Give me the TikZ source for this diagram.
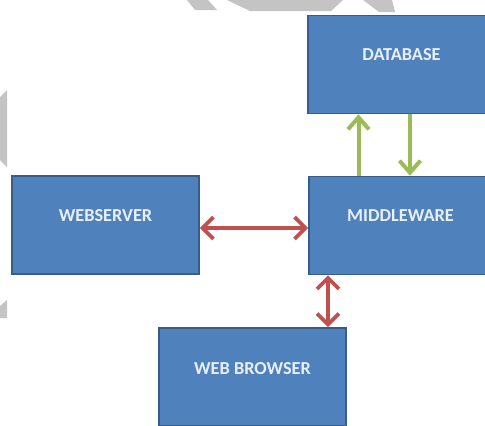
\documentclass[tikz,border=0pt]{standalone}
\usepackage{fontspec}
\setmainfont{Carlito}
\usetikzlibrary{arrows.meta}
\definecolor{boxfill}{HTML}{4F81BD}
\definecolor{boxedge}{HTML}{385D8A}
\definecolor{txtc}{HTML}{E8EFF8}
\definecolor{redarr}{HTML}{C0504D}
\definecolor{greenarr}{HTML}{9BBB59}
\definecolor{wmark}{HTML}{C4C4C4}
\tikzset{
  box/.style={draw=boxedge, line width=1.6pt, fill=boxfill, minimum width=187pt, minimum height=98pt, inner sep=0pt},
  lbl/.style={text=txtc, font=\fontsize{18.3}{20}\selectfont\bfseries, inner sep=0pt},
  redlink/.style={draw=redarr, line width=3.8pt, {Straight Barb[length=11pt,width=22pt]}-{Straight Barb[length=11pt,width=22pt]}},
  greenlink/.style={draw=greenarr, line width=4pt, -{Straight Barb[length=12pt,width=21pt]}},
  wm/.style={fill=wmark, draw=none}
}
\begin{document}
\begin{tikzpicture}[x=1pt,y=-1pt]
\useasboundingbox (0,0) rectangle (485,426);
\clip (0,0) rectangle (485,426);
\fill[white] (0,0) rectangle (485,426);
% watermark fragments
\path[wm] (187,0) -- (208,0) -- (217,10) -- (195,10) -- cycle;
\path[wm] (227,0) -- (343,0) -- (331,11) -- (250,11) -- cycle;
\path[wm] (363,0) -- (392,0) -- (395,12) -- (379,12) -- cycle;
\path[wm] (0,97) -- (7,90) -- (7,167) -- (0,160) -- cycle;
\path[wm] (0,306) -- (7,300) -- (7,318) -- (0,318) -- cycle;
% boxes
\node[box] (db) at (401.5,64.5) {};
\node[box] (mw) at (402.5,225.5) {};
\node[box] (ws) at (105.5,225) {};
\node[box] (wb) at (252.5,377) {};
% labels
\node[lbl] (dbl) at ([yshift=9.5pt]db.center) {DATABASE};
\node[lbl] (mwl) at ([yshift=10pt,xshift=-2pt]mw.center) {MIDDLEWARE};
\node[lbl] (wsl) at ([yshift=9pt]ws.center) {WEBSERVER};
\node[lbl] (wbl) at ([yshift=8pt]wb.center) {WEB BROWSER};
% connectors
\draw[redlink] ([yshift=-3pt]ws.east) -- ([yshift=-2.5pt]mw.west);
\draw[redlink] ([xshift=-74.5pt]mw.south) -- ([xshift=75.5pt]wb.north);
\draw[greenlink] ([xshift=-44pt]mw.north) -- ([xshift=-43pt]db.south);
\draw[greenlink] ([xshift=8.5pt]db.south) -- ([xshift=7.5pt]mw.north);
\end{tikzpicture}
\end{document}
